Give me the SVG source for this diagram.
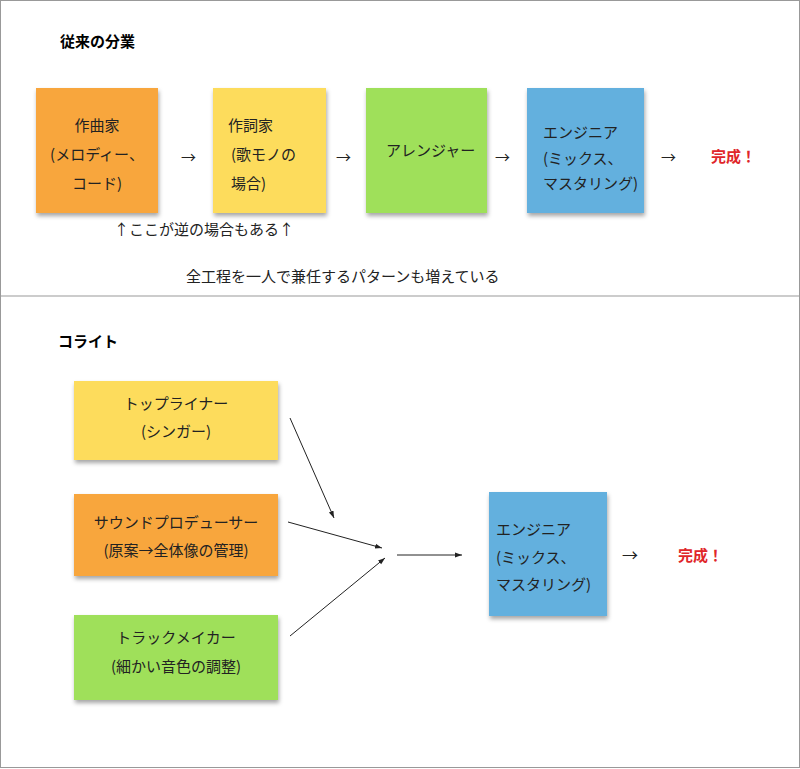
<svg xmlns="http://www.w3.org/2000/svg" width="800" height="769" viewBox="0 0 800 769">
<style>
text{font-family:"Noto Sans CJK JP","Noto Sans",sans-serif;fill:#222;font-size:15px}
.h{font-weight:bold;font-size:15px;fill:#000}
.r{fill:#e0262a;font-weight:bold;font-size:15px}
.c{text-anchor:middle}
.ar{font-size:16px}
</style>
<defs>
<filter id="s" x="-10%" y="-10%" width="130%" height="130%"><feDropShadow dx="1" dy="3" stdDeviation="2" flood-opacity="0.35"/></filter>
<marker id="m" markerWidth="8" markerHeight="8" refX="7" refY="4" orient="auto" markerUnits="userSpaceOnUse"><path d="M0,1.5 L7,4 L0,6.5 z" fill="#222"/></marker>
</defs>
<rect x="0.5" y="0.5" width="799" height="767" fill="#fff" stroke="#999"/>
<line x1="0" y1="296" x2="800" y2="296" stroke="#999"/>
<text class="h" x="60" y="47">従来の分業</text>
<g id="n1"><rect x="36" y="88" width="122" height="125" fill="#f8a63c" filter="url(#s)"/><text class="c" x="97" y="131">作曲家</text><text class="c" x="97" y="160">(メロディー、</text><text class="c" x="97" y="189">コード)</text></g>
<g id="n2"><rect x="213" y="88" width="113" height="125" fill="#fddc5c" filter="url(#s)"/><text x="228" y="131">作詞家</text><text x="231" y="160">(歌モノの</text><text x="231" y="189">場合)</text></g>
<g id="n3"><rect x="366" y="88" width="121" height="125" fill="#9fe05a" filter="url(#s)"/><text x="386" y="156">アレンジャー</text></g>
<g id="n4"><rect x="527" y="88" width="117" height="125" fill="#63b0de" filter="url(#s)"/><text x="543" y="138">エンジニア</text><text x="543" y="164">(ミックス、</text><text x="543" y="189">マスタリング)</text></g>
<text class="r" x="711" y="162">完成！</text>
<g class="ar"><text x="181" y="163">→</text><text x="336" y="163">→</text><text x="495" y="163">→</text><text x="661" y="163">→</text></g>
<text x="114" y="235">↑ここが逆の場合もある↑</text>
<text x="186" y="282">全工程を一人で兼任するパターンも増えている</text>
<text class="h" x="58" y="347">コライト</text>
<g id="c1"><rect x="74" y="381" width="204" height="79" fill="#fddc5c" filter="url(#s)"/><text class="c" x="176" y="409">トップライナー</text><text class="c" x="176" y="437">(シンガー)</text></g>
<g id="c2"><rect x="74" y="494" width="204" height="82" fill="#f8a63c" filter="url(#s)"/><text class="c" x="176" y="528">サウンドプロデューサー</text><text class="c" x="176" y="556">(原案→全体像の管理)</text></g>
<g id="c3"><rect x="74" y="615" width="204" height="85" fill="#9fe05a" filter="url(#s)"/><text class="c" x="176" y="643">トラックメイカー</text><text class="c" x="176" y="672">(細かい音色の調整)</text></g>
<g id="c4"><rect x="489" y="492" width="118" height="124" fill="#63b0de" filter="url(#s)"/><text x="496" y="535">エンジニア</text><text x="496" y="563">(ミックス、</text><text x="496" y="590">マスタリング)</text></g>
<text class="r" x="678" y="561">完成！</text>
<text class="ar" x="622" y="561">→</text>
<g id="connectors" stroke="#222" stroke-width="1" marker-end="url(#m)">
<line x1="290" y1="418" x2="334" y2="518"/>
<line x1="288" y1="522" x2="382" y2="548"/>
<line x1="290" y1="636" x2="385" y2="558"/>
<line x1="397" y1="555" x2="462" y2="555"/>
</g>
</svg>
